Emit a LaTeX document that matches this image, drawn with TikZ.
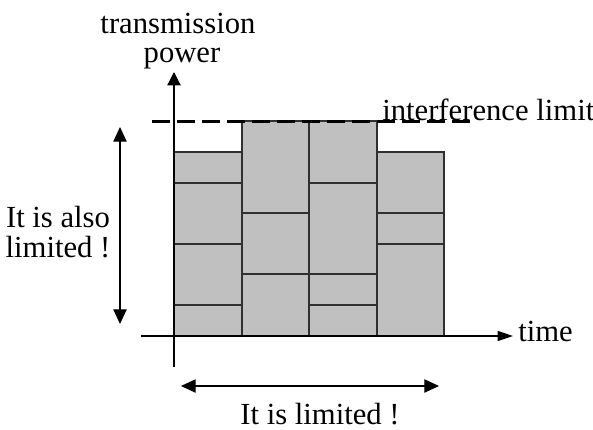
\documentclass[tikz,border=0pt]{standalone}
\usepackage{fontspec}
\setmainfont{Liberation Serif}
\usetikzlibrary{arrows.meta}
\definecolor{barfill}{HTML}{C0C0C0}
\definecolor{edge}{HTML}{303030}
\begin{document}
\begin{tikzpicture}[x=0.75pt,y=-0.75pt,
  lbl/.style={font=\fontsize{23}{30}\selectfont, inner sep=0pt},
  cell/.style={fill=barfill, draw=edge, line width=0.9pt},
  yaxis/.style={line width=0.9pt, -{Triangle[length=10pt,width=10pt]}},
  xaxis/.style={line width=0.9pt, -{Triangle[length=11.5pt,width=7.5pt]}},
  span/.style={line width=0.8pt, {Triangle[length=11pt,width=10pt]}-{Triangle[length=11pt,width=10pt]}},
  limitline/.style={line width=2.25pt, dash pattern=on 13.5pt off 5.25pt}]
\useasboundingbox (0,0) rectangle (593,429);

% stacked power blocks, one column per time slot
\draw[cell] (174,152) rectangle (242,183);
\draw[cell] (174,183) rectangle (242,244);
\draw[cell] (174,244) rectangle (242,305);
\draw[cell] (174,305) rectangle (242,336);

\draw[cell] (242,121) rectangle (309,213);
\draw[cell] (242,213) rectangle (309,274);
\draw[cell] (242,274) rectangle (309,336);

\draw[cell] (309,121) rectangle (377,183);
\draw[cell] (309,183) rectangle (377,274);
\draw[cell] (309,274) rectangle (377,305);
\draw[cell] (309,305) rectangle (377,336);

\draw[cell] (377,152) rectangle (444,213);
\draw[cell] (377,213) rectangle (444,244);
\draw[cell] (377,244) rectangle (444,336);

% axes
\coordinate (ybot) at (174,367);
\coordinate (ytop) at (174,72);
\coordinate (xleft) at (141,336);
\coordinate (xright) at (513,336);
\draw[yaxis] (ybot) -- (ytop);
\draw[xaxis] (xleft) -- (xright);

% interference limit
\coordinate (lim0) at (152,121);
\coordinate (lim1) at (474,121);
\draw[limitline] (lim0) -- (lim1);

% range arrows
\coordinate (vtop) at (120,127);
\coordinate (vbot) at (120,324);
\draw[span] (vtop) -- (vbot);
\coordinate (hl) at (181,386);
\coordinate (hr) at (439,386);
\draw[span] (hl) -- (hr);

% labels
\node[lbl, anchor=base] (tx) at (178,33) {transmission};
\node[lbl, anchor=base] (pw) at (182,62) {power};
\node[lbl, anchor=base west] (tm) at (518,341) {time};
\node[lbl, anchor=base west] (il) at (382,120) {interference limit};
\node[lbl, anchor=base] (al1) at (58,227) {It is also};
\node[lbl, anchor=base] (al2) at (58,257) {limited !};
\node[lbl, anchor=base] (lm) at (320,424) {It is limited !};
\end{tikzpicture}
\end{document}
